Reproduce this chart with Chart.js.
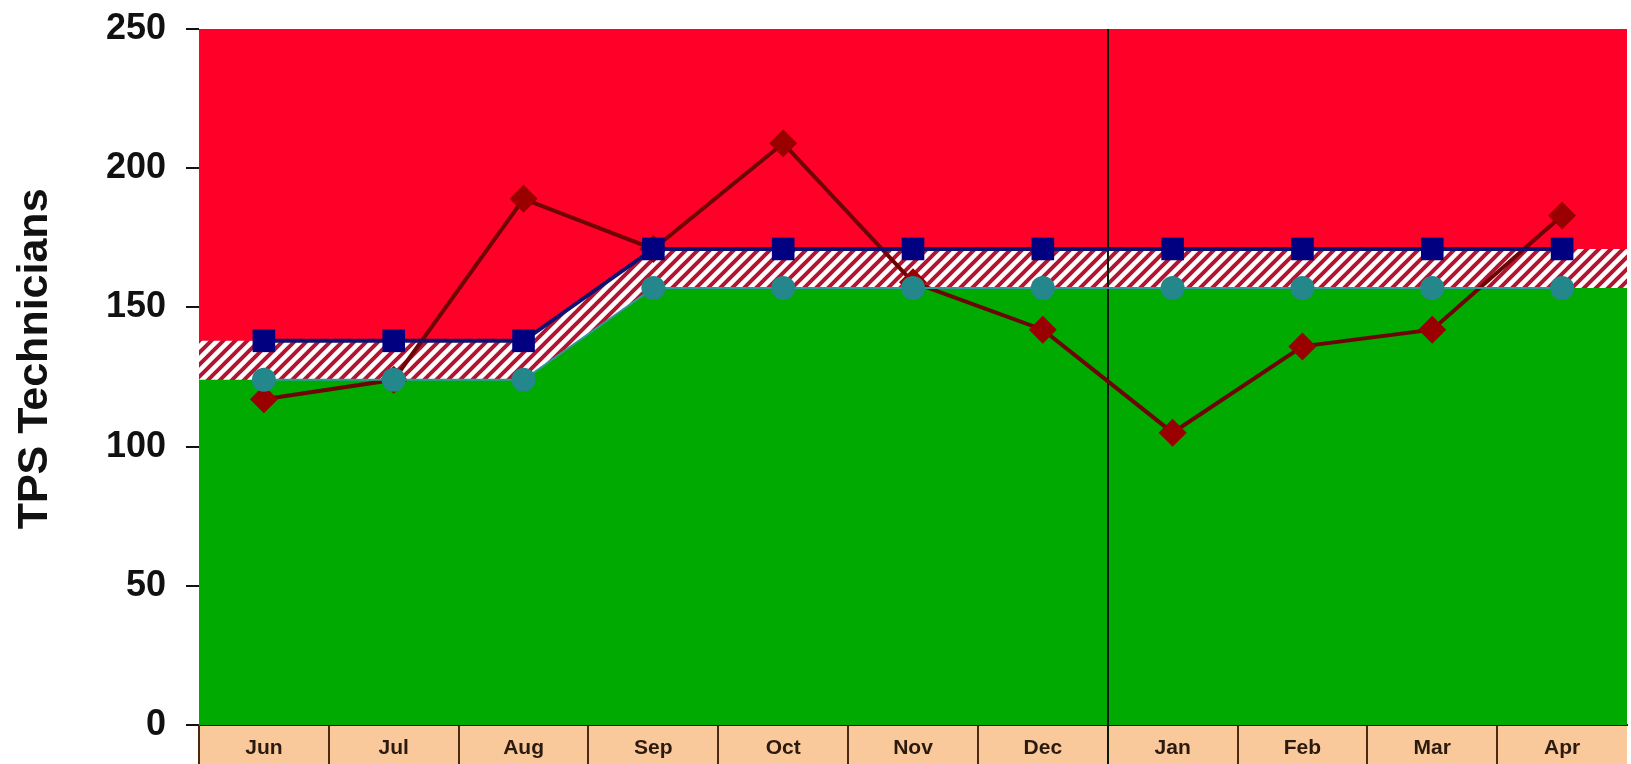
<!DOCTYPE html>
<html>
<head>
<meta charset="utf-8">
<title>TPS Technicians</title>
<script src="https://cdn.jsdelivr.net/npm/chart.js@4/dist/chart.umd.min.js"></script>
<style>
  html, body { margin: 0; padding: 0; background: #fff; }
  canvas { display: block; }
</style>
</head>
<body>
<canvas id="myChart" width="1631" height="764"></canvas>
<script>
// months shown along the bottom band
const months = ["Jun", "Jul", "Aug", "Sep", "Oct", "Nov", "Dec", "Jan", "Feb", "Mar", "Apr"];

// actual technicians (dark red diamonds)
const actual = [117, 124, 189, 171, 209, 159, 142, 105, 136, 142, 183];
// upper limit (blue squares, top of hatched band)
const upperLimit = [138, 138, 138, 171, 171, 171, 171, 171, 171, 171, 171];
// lower limit (teal circles, top of green area)
const lowerLimit = [124, 124, 124, 157, 157, 157, 157, 157, 157, 157, 157];

const yTicks = [0, 50, 100, 150, 200, 250];
const yTitle = "TPS Technicians";
const splitAfter = "Dec"; // year change line

const font = "'Liberation Sans', Arial, sans-serif";

// red/white diagonal hatch
function makeHatch() {
    const tile = document.createElement("canvas");
    tile.width = 12;
    tile.height = 12;
    const t = tile.getContext("2d");
    t.fillStyle = "#ffffff";
    t.fillRect(0, 0, 12, 12);
    t.strokeStyle = "#b3142f";
    t.lineWidth = 4;
    t.beginPath();
    t.moveTo(-3, 15); t.lineTo(15, -3);
    t.moveTo(-3, 3); t.lineTo(3, -3);
    t.moveTo(9, 15); t.lineTo(15, 9);
    t.stroke();
    return t.createPattern(tile, "repeat");
}

// areas run from the left edge of the plot to the right edge
function edgeSeries(values) {
    const pts = values.map((v, i) => ({ x: i, y: v }));
    pts.unshift({ x: -0.5, y: values[0] });
    pts.push({ x: values.length - 0.5, y: values[values.length - 1] });
    return pts;
}

function noPadding(s) {
    s.paddingTop = 0;
    s.paddingBottom = 0;
    s.paddingLeft = 0;
    s.paddingRight = 0;
}

const backgroundPlugin = {
    id: "bands",
    beforeDatasetsDraw(chart) {
        const { ctx, chartArea } = chart;
        ctx.save();
        ctx.fillStyle = "#ff0028";
        ctx.fillRect(chartArea.left, chartArea.top, chartArea.right - chartArea.left, chartArea.bottom - chartArea.top);
        ctx.restore();
    },
    beforeDraw(chart) {
        const { ctx, chartArea } = chart;
        const x = chart.scales.x;
        ctx.save();
        ctx.fillStyle = "#f9c89b";
        ctx.fillRect(chartArea.left, chartArea.bottom, chartArea.right - chartArea.left, chart.height - chartArea.bottom);
        ctx.strokeStyle = "#4a2a12";
        ctx.lineWidth = 2;
        const step = x.getPixelForValue(1) - x.getPixelForValue(0);
        for (let i = 0; i < months.length; i++) {
            const bx = Math.round(x.getPixelForValue(i) - step / 2);
            ctx.beginPath();
            ctx.moveTo(bx, chartArea.bottom);
            ctx.lineTo(bx, chart.height);
            ctx.stroke();
        }
        ctx.restore();
    },
    afterDatasetDraw(chart, args) {
        // after the green area: the year divider, under the lines
        if (args.index !== 3) return;
        const { ctx, chartArea } = chart;
        const x = chart.scales.x;
        const i = months.indexOf(splitAfter);
        const px = Math.round((x.getPixelForValue(i) + x.getPixelForValue(i + 1)) / 2);
        ctx.save();
        ctx.strokeStyle = "#0a1a0a";
        ctx.lineWidth = 2;
        ctx.beginPath();
        ctx.moveTo(px, chartArea.top);
        ctx.lineTo(px, chart.height);
        ctx.stroke();
        ctx.restore();
    },
    afterDraw(chart) {
        // y axis title, sitting a little above the middle like the original
        const { ctx, chartArea } = chart;
        ctx.save();
        ctx.translate(35, chartArea.top + (chartArea.bottom - chartArea.top) * 0.474);
        ctx.rotate(-Math.PI / 2);
        ctx.fillStyle = "#111";
        ctx.font = "bold 43px " + font;
        ctx.textAlign = "center";
        ctx.textBaseline = "middle";
        ctx.fillText(yTitle, 0, 0);
        ctx.restore();
    }
};

const config = {
    type: "line",
    data: {
        labels: months,
        datasets: [
            {
                label: "Lower limit",
                data: lowerLimit,
                xAxisID: "x",
                borderColor: "#2e9a9a",
                borderWidth: 2,
                pointStyle: "circle",
                pointRadius: 12,
                pointBackgroundColor: "#23878c",
                pointBorderWidth: 0,
                fill: false
            },
            {
                label: "Upper limit",
                data: upperLimit,
                xAxisID: "x",
                borderColor: "#101070",
                borderWidth: 4,
                pointStyle: "rect",
                pointRadius: 16,
                pointBackgroundColor: "#000080",
                pointBorderWidth: 0,
                fill: false
            },
            {
                label: "TPS Technicians",
                data: actual,
                xAxisID: "x",
                borderColor: "#6e0505",
                borderWidth: 4,
                pointStyle: "rectRot",
                pointRadius: 14,
                pointBackgroundColor: "#9a0000",
                pointBorderWidth: 0,
                fill: false
            },
            {
                label: "Green zone",
                data: edgeSeries(lowerLimit),
                xAxisID: "xa",
                borderWidth: 0,
                pointRadius: 0,
                backgroundColor: "#00aa00",
                fill: "origin"
            },
            {
                label: "Hatched zone",
                data: edgeSeries(upperLimit),
                xAxisID: "xa",
                borderWidth: 0,
                pointRadius: 0,
                backgroundColor: makeHatch(),
                fill: "origin"
            }
        ]
    },
    options: {
        responsive: false,
        animation: false,
        events: [],
        layout: { autoPadding: false, padding: { top: 29, right: 4, left: 0, bottom: 0 } },
        plugins: {
            legend: { display: false },
            tooltip: { enabled: false }
        },
        scales: {
            x: {
                type: "category",
                offset: true,
                grid: { display: false },
                border: { display: true, color: "#1a1a1a", width: 2 },
                ticks: {
                    color: "#2b1a0e",
                    font: { family: font, size: 21, weight: "bold" },
                    padding: 3,
                    maxRotation: 0,
                    autoSkip: false
                },
                afterFit(s) { s.height = 39; noPadding(s); }
            },
            xa: {
                type: "linear",
                display: false,
                min: -0.5,
                max: months.length - 0.5,
                afterFit: noPadding
            },
            y: {
                min: 0,
                max: 250,
                afterBuildTicks(s) { s.ticks = yTicks.map(v => ({ value: v })); },
                grid: {
                    drawOnChartArea: false,
                    drawTicks: true,
                    tickLength: 13,
                    color: "#111",
                    lineWidth: 2
                },
                border: { display: true, color: "#555", width: 1 },
                ticks: {
                    color: "#111",
                    font: { family: font, size: 36, weight: "bold" },
                    padding: 20
                },
                afterFit(s) { s.width = 199; noPadding(s); }
            }
        }
    },
    plugins: [backgroundPlugin]
};

new Chart(document.getElementById("myChart"), config);
</script>
</body>
</html>
